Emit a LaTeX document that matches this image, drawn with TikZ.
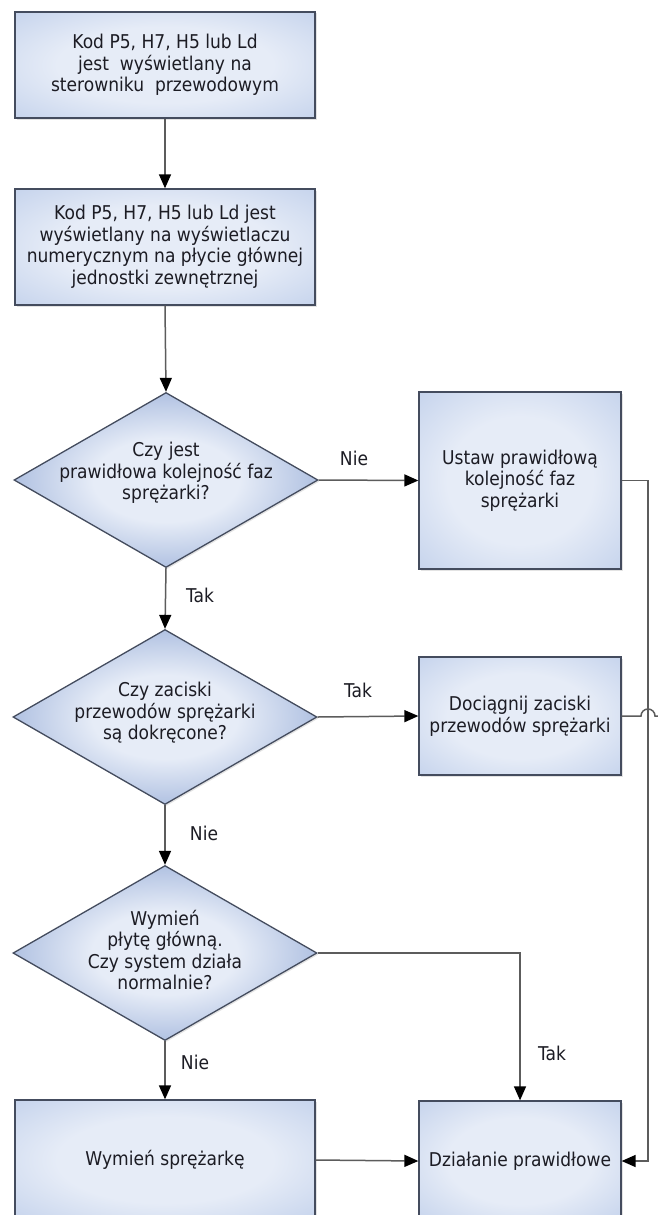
\documentclass[tikz,border=0pt]{standalone}
\usepackage{fontspec}
\setmainfont{DejaVu Sans}[FakeStretch=0.9]
\usetikzlibrary{shapes.geometric,arrows.meta,shadows}

\definecolor{shadeA}{RGB}{230,236,247}
\definecolor{shadeB}{RGB}{172,192,228}
\definecolor{shadeC}{RGB}{140,165,212}
\definecolor{shadeD}{RGB}{132,158,208}
\definecolor{edge}{RGB}{68,76,94}
\definecolor{wire}{RGB}{92,92,92}
\definecolor{ink}{RGB}{28,28,36}

% soft fills: light centre, blue towards the border
\pgfdeclareradialshading{boxshade}{\pgfpoint{0bp}{0bp}}{%
  color(0bp)=(shadeA); color(18bp)=(shadeA); color(50bp)=(shadeB); color(71bp)=(shadeC)}
\pgfdeclareradialshading{diashade}{\pgfpoint{0bp}{0bp}}{%
  color(0bp)=(shadeA); color(12bp)=(shadeA); color(36bp)=(shadeD); color(71bp)=(shadeD)}

\begin{document}
\begin{tikzpicture}[x=1pt,y=-1pt,
  shapebase/.style={draw=edge, line width=1.3pt, shade,
    drop shadow={opacity=0.22, shadow xshift=1.5pt, shadow yshift=-1.5pt}},
  stepbox/.style={shapebase, shading=boxshade, rectangle, inner sep=0pt, align=center,
    font=\fontsize{19pt}{21.5pt}\selectfont, text=ink},
  wide/.style={stepbox, minimum width=300pt},
  narrow/.style={stepbox, minimum width=202pt},
  decision/.style={shapebase, shading=diashade, diamond, inner sep=0pt, aspect=1.74,
    minimum width=304pt, minimum height=175pt},
  qtext/.style={align=center, inner sep=0pt, text=ink,
    font=\fontsize{19pt}{21.5pt}\selectfont},
  lbl/.style={inner sep=0pt, text=ink, font=\fontsize{19pt}{21.5pt}\selectfont},
  conn/.style={draw=wire, line width=1.5pt},
  arr/.style={conn, -{Triangle[length=14pt,width=12pt,color=black]}}
]
\useasboundingbox (0,0) rectangle (658,1215);
\clip (0,0) rectangle (658,1215);
\fill[white] (0,0) rectangle (658,1215);

% process boxes
\node[wide, minimum height=106pt] (box1) at (165,65)
  {Kod P5, H7, H5 lub Ld\\jest\ \ wyświetlany na\\sterowniku\ \ przewodowym};
\node[wide, minimum height=116pt] (box2) at (165,247)
  {Kod P5, H7, H5 lub Ld jest\\wyświetlany na wyświetlaczu\\numerycznym na płycie głównej\\jednostki zewnętrznej};
\node[narrow, minimum height=177pt] (ustaw) at (520,480.5)
  {Ustaw prawidłową\\kolejność faz\\sprężarki};
\node[narrow, minimum height=118pt] (docia) at (520,716)
  {Dociągnij zaciski\\przewodów sprężarki};
\node[wide, minimum height=120pt] (wymien) at (165,1160) {Wymień sprężarkę};
\node[narrow, minimum height=120pt] (dzial) at (520,1161) {Działanie prawidłowe};

% decisions
\node[decision] (d1) at (166,480) {};
\node[qtext] (q1) at (166,473) {Czy jest\\prawidłowa kolejność faz\\sprężarki?};
\node[decision] (d2) at (165,717) {};
\node[qtext] (q2) at (165,713) {Czy zaciski\\przewodów sprężarki\\są dokręcone?};
\node[decision] (d3) at (165,953) {};
\node[qtext] (q3) at (165,950) {Wymień\\płytę główną.\\Czy system działa\\normalnie?};

% main column
\draw[arr] (box1.south) -- (box2.north);
\draw[arr] (box2.south) -- (d1.north);
\draw[arr] (d1.south) -- (d2.north);
\draw[arr] (d2.south) -- (d3.north);
\draw[arr] (d3.south) -- (wymien.north);

% side branches
\draw[arr] (d1.east) -- (ustaw.west);
\draw[arr] (d2.east) -- (docia.west);
\draw[arr] (wymien.east) -- (dzial.west);
\draw[arr] (d3.east) -| (dzial.north);

% return rail on the right
\coordinate (rail) at (648,1161);
\draw[arr] (ustaw.east) -| (rail) -- (dzial.east);

% line from the second action, hopping over the rail
\coordinate (hop) at (641,716);
\coordinate (exit) at (670,716);
\draw[conn] (docia.east) -- (hop) arc[start angle=180, end angle=0, radius=7pt] -- (exit);

% branch labels
\node[lbl] (n1) at (354,458) {Nie};
\node[lbl] (t1) at (200,595) {Tak};
\node[lbl] (t2) at (358,690) {Tak};
\node[lbl] (n2) at (204,833) {Nie};
\node[lbl] (n3) at (195,1062) {Nie};
\node[lbl] (t3) at (552,1053) {Tak};
\end{tikzpicture}
\end{document}
